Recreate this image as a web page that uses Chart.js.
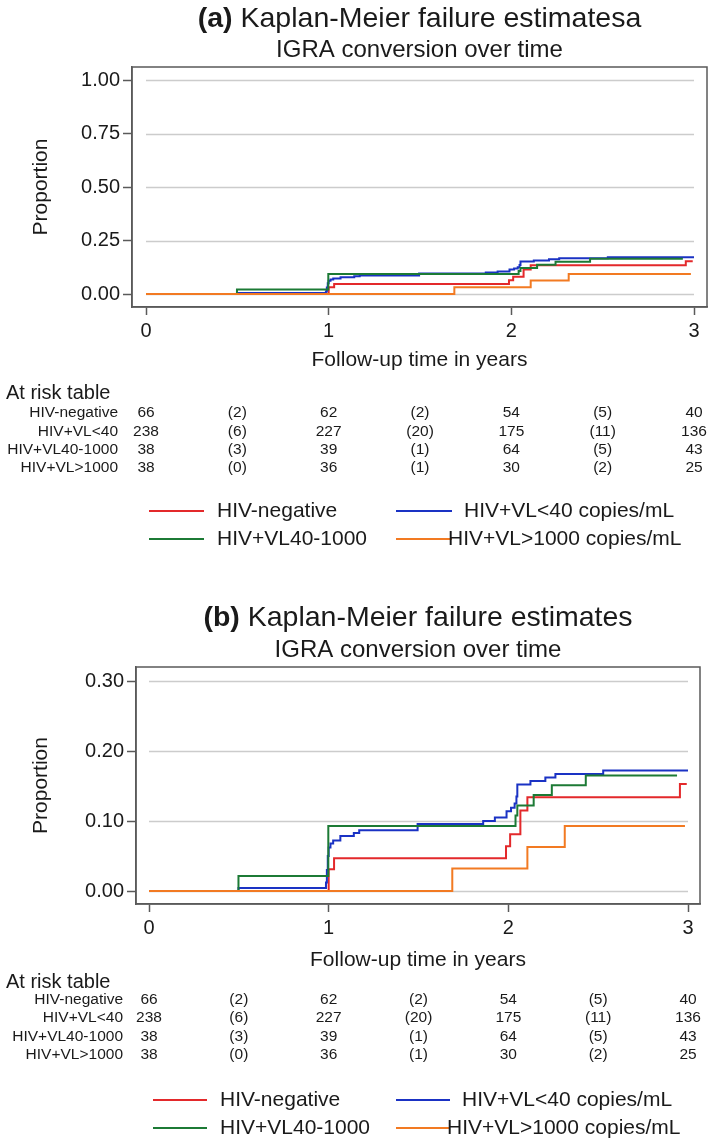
<!DOCTYPE html>
<html><head><meta charset="utf-8">
<script src="https://cdn.jsdelivr.net/npm/chart.js@4"></script>
<style>
html,body{margin:0;padding:0;background:#fff;}
body{width:709px;height:1146px;position:relative;overflow:hidden;}
canvas{position:absolute;left:0;top:0;}
</style></head><body>
<div style="position:absolute;left:0;top:0;width:709px;height:600px"><canvas id="c1" width="709" height="600"></canvas></div>
<div style="position:absolute;left:0;top:600px;width:709px;height:546px"><canvas id="c2" width="709" height="546"></canvas></div>
<script>
// ---- data ----
const seriesNames = ['HIV-negative', 'HIV+VL<40 copies/mL', 'HIV+VL40-1000', 'HIV+VL>1000 copies/mL'];
const seriesColors = ['#e3292b', '#1a32c4', '#1c7a35', '#f27a22'];

const timeNeg = [0, 1.0, 1.03, 1.987, 2.01, 2.067, 2.106, 2.955, 2.993];
const valNeg  = [0, 0.031, 0.0467, 0.064, 0.081, 0.115, 0.134, 0.153, 0.153];

const timeVL40 = [0, 0.498, 0.985, 0.99, 0.995, 1.0, 1.01, 1.025, 1.065, 1.14, 1.17, 1.495, 1.86, 1.925, 1.99, 2.015, 2.035, 2.045, 2.05, 2.123, 2.206, 2.262, 2.528, 3.0];
const valVL40  = [0, 0.0043, 0.012, 0.03, 0.05, 0.062, 0.068, 0.072, 0.0786, 0.083, 0.0867, 0.0957, 0.100, 0.105, 0.114, 0.119, 0.125, 0.135, 0.152, 0.157, 0.162, 0.167, 0.172, 0.172];

const timeVL40to1000 = [0, 0.498, 0.998, 2.04, 2.05, 2.141, 2.242, 2.431, 2.939];
const valVL40to1000  = [0, 0.0214, 0.0929, 0.108, 0.122, 0.137, 0.151, 0.165, 0.165];

const timeVL1000 = [0, 1.688, 2.106, 2.314, 2.983];
const valVL1000  = [0, 0.032, 0.063, 0.093, 0.093];

const xTicks = [0, 1, 2, 3];
const yTicksA = [0, 0.25, 0.5, 0.75, 1.0];
const yTicksB = [0, 0.1, 0.2, 0.3];

const riskRowLabels = ['HIV-negative', 'HIV+VL<40', 'HIV+VL40-1000', 'HIV+VL>1000'];
const riskTimes = [0, 0.5, 1, 1.5, 2, 2.5, 3];
const riskNeg        = ['66', '(2)', '62', '(2)', '54', '(5)', '40'];
const riskVL40       = ['238', '(6)', '227', '(20)', '175', '(11)', '136'];
const riskVL40to1000 = ['38', '(3)', '39', '(1)', '64', '(5)', '43'];
const riskVL1000     = ['38', '(0)', '36', '(1)', '30', '(2)', '25'];

// ---- building ----
const seriesTimes = [timeNeg, timeVL40, timeVL40to1000, timeVL1000];
const seriesVals = [valNeg, valVL40, valVL40to1000, valVL1000];
const riskRows = [riskNeg, riskVL40, riskVL40to1000, riskVL1000];
const drawOrder = [3, 2, 1, 0]; // lower = on top

const FONT = '"Liberation Sans", Arial, Helvetica, sans-serif';
const TXT = '#1a1a1a';
const FRAME = '#5a5a5a';
Chart.defaults.font.family = FONT;
Chart.defaults.color = TXT;

function makePanel(id, H, g) {
  const datasets = seriesNames.map((name, i) => ({
    label: name,
    data: seriesTimes[i].map((t, k) => ({x: t, y: seriesVals[i][k]})),
    borderColor: seriesColors[i],
    backgroundColor: seriesColors[i],
    borderWidth: 2,
    pointRadius: 0,
    stepped: 'before',
    fill: false,
    order: drawOrder[i]
  }));

  const panelPlugin = {
    id: 'panel' + id,
    beforeDatasetsDraw(chart) {
      const ctx = chart.ctx, xs = chart.scales.x, ys = chart.scales.y;
      ctx.save();
      ctx.strokeStyle = '#cccccc';
      ctx.lineWidth = 1.5;
      const x0 = xs.getPixelForValue(xTicks[0]), x1 = xs.getPixelForValue(xTicks[xTicks.length - 1]);
      g.yTicks.forEach(v => {
        const y = Math.round(ys.getPixelForValue(v)) + 0.5;
        ctx.beginPath(); ctx.moveTo(x0, y); ctx.lineTo(x1, y); ctx.stroke();
      });
      ctx.restore();
    },
    afterDraw(chart) {
      const ctx = chart.ctx, a = chart.chartArea, xs = chart.scales.x;
      ctx.save();
      // frame
      ctx.strokeStyle = FRAME; ctx.lineWidth = 1.5;
      ctx.strokeRect(a.left, a.top, a.right - a.left, a.bottom - a.top);
      ctx.fillStyle = TXT;
      ctx.textBaseline = 'middle';
      // title with bold prefix
      const cx = (a.left + a.right) / 2;
      ctx.font = 'bold ' + g.titleSize + 'px ' + FONT;
      const w1 = ctx.measureText(g.titlePrefix).width;
      ctx.font = g.titleSize + 'px ' + FONT;
      const w2 = ctx.measureText(g.titleRest).width;
      const sx = cx - (w1 + w2) / 2;
      ctx.textAlign = 'left';
      ctx.font = 'bold ' + g.titleSize + 'px ' + FONT;
      ctx.fillText(g.titlePrefix, sx, g.titleY);
      ctx.font = g.titleSize + 'px ' + FONT;
      ctx.fillText(g.titleRest, sx + w1, g.titleY);
      // subtitle
      ctx.textAlign = 'center';
      ctx.font = g.subSize + 'px ' + FONT;
      ctx.fillText('IGRA conversion over time', cx, g.subY);
      // x title
      ctx.font = '21px ' + FONT;
      ctx.fillText('Follow-up time in years', cx, g.xTitleY);
      // y title
      ctx.save();
      ctx.translate(g.yTitleX, (a.top + a.bottom) / 2);
      ctx.rotate(-Math.PI / 2);
      ctx.fillText('Proportion', 0, 0);
      ctx.restore();
      // at risk table
      ctx.textAlign = 'left';
      ctx.font = '20px ' + FONT;
      ctx.fillText('At risk table', g.atRiskX, g.atRiskY);
      ctx.font = '15.5px ' + FONT;
      riskRows.forEach((row, r) => {
        const y = g.rowY[r];
        ctx.textAlign = 'right';
        ctx.fillText(riskRowLabels[r], g.rowLabelRight, y);
        ctx.textAlign = 'center';
        row.forEach((val, j) => ctx.fillText(val, xs.getPixelForValue(riskTimes[j]), y));
      });
      // legend
      ctx.font = '21px ' + FONT;
      ctx.textAlign = 'left';
      seriesNames.forEach((name, i) => {
        const r = Math.floor(i / 2), c = i % 2;
        const y = g.legendY[r];
        ctx.strokeStyle = seriesColors[i]; ctx.lineWidth = 2;
        ctx.beginPath(); ctx.moveTo(g.legLine[c][0], y); ctx.lineTo(g.legLine[c][1], y); ctx.stroke();
        ctx.fillStyle = TXT;
        ctx.fillText(name, g.legText[r][c], y);
      });
      ctx.restore();
    }
  };

  return new Chart(document.getElementById(id), {
    type: 'line',
    data: {datasets},
    options: {
      responsive: false, animation: false, events: [],
      layout: {padding: {left: 0, top: g.T, right: 709 - g.R, bottom: H - 40 - g.B}},
      plugins: {legend: {display: false}, tooltip: {enabled: false}, title: {display: false}},
      scales: {
        x: {
          type: 'linear', min: g.xmin, max: g.xmax,
          afterBuildTicks: s => { s.ticks = xTicks.map(v => ({value: v})); },
          afterFit: s => { s.height = 40; },
          grid: {display: true, drawOnChartArea: false, drawTicks: true, tickLength: 8, tickColor: FRAME, tickWidth: 1.5},
          border: {display: true, color: FRAME, width: 1.5},
          ticks: {padding: 4, font: {size: 20}, color: TXT, autoSkip: false, maxRotation: 0, callback: v => String(v)}
        },
        y: {
          type: 'linear', min: g.ymin, max: g.ymax,
          afterBuildTicks: s => { s.ticks = g.yTicks.map(v => ({value: v})); },
          afterFit: s => { s.width = g.L; },
          grid: {display: true, drawOnChartArea: false, drawTicks: true, tickLength: 9, tickColor: FRAME, tickWidth: 1.5},
          border: {display: true, color: FRAME, width: 1.5},
          ticks: {padding: 3, font: {size: 20}, color: TXT, autoSkip: false, callback: v => Number(v).toFixed(2)}
        }
      }
    },
    plugins: [panelPlugin]
  });
}

makePanel('c1', 600, {
  L: 132, R: 707, T: 67, B: 307,
  xmin: (132 - 146) / 182.67, xmax: (707 - 146) / 182.67,
  ymin: -13 / 214, ymax: 1 + 13 / 214,
  yTicks: yTicksA,
  titlePrefix: '(a) ', titleRest: 'Kaplan-Meier failure estimatesa', titleSize: 28.5, titleY: 19,
  subSize: 24, subY: 50, xTitleY: 360, yTitleX: 41,
  atRiskX: 6, atRiskY: 393, rowY: [413, 432, 450, 468], rowLabelRight: 118,
  legendY: [511, 539], legLine: [[149, 204], [396, 452]], legText: [[217, 464], [217, 448]]
});

makePanel('c2', 546, {
  L: 136, R: 700, T: 67, B: 304,
  xmin: (136 - 149) / 179.67, xmax: (700 - 149) / 179.67,
  ymin: -13 / 700, ymax: 0.3 + 14 / 700,
  yTicks: yTicksB,
  titlePrefix: '(b) ', titleRest: 'Kaplan-Meier failure estimates', titleSize: 28.5, titleY: 18,
  subSize: 24, subY: 50, xTitleY: 360, yTitleX: 41,
  atRiskX: 6, atRiskY: 382, rowY: [400, 418, 437, 455], rowLabelRight: 123,
  legendY: [500, 528], legLine: [[153, 207], [396, 450]], legText: [[220, 462], [220, 447]]
});
</script>
</body></html>
